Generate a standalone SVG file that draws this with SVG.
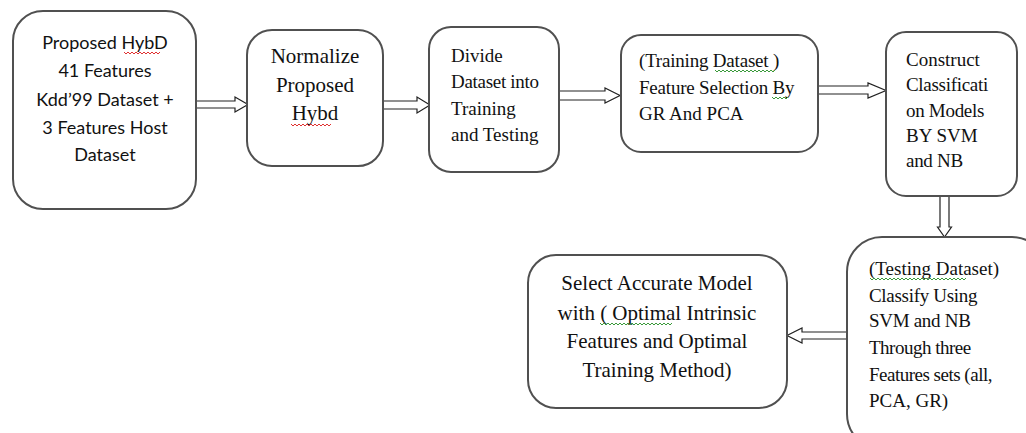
<svg xmlns="http://www.w3.org/2000/svg" width="1026" height="433" viewBox="0 0 1026 433">
<style>
.box{fill:#fff;stroke:#505050;stroke-width:2}
.arr{fill:#fff;stroke:#222;stroke-width:1.2;stroke-linejoin:miter}
.cal{font-family:Lato,"Open Sans","Liberation Sans",sans-serif;font-size:18px;fill:#111;text-anchor:middle}
.ser{font-family:"Liberation Serif","Times New Roman",serif;font-size:19px;fill:#111}
.big{font-size:21px}
.mid{text-anchor:middle}
.red{fill:none;stroke:#e03030;stroke-width:1}
.grn{fill:none;stroke:#3a9a3a;stroke-width:1}
</style>
<rect width="1026" height="433" fill="#fff"/>
<g id="connectors">
<path class="arr" d="M196,101 H235 V97 L248,104.5 L235,112 V108 H196 Z"/>
<path class="arr" d="M383,101 H417 V97 L430,105 L417,113 V109 H383 Z"/>
<path class="arr" d="M559,91 H605 V88 L620,95.5 L605,103 V100 H559 Z"/>
<path class="arr" d="M818,86 H868 V83 L886,90.5 L868,98 V94 H818 Z"/>
<path class="arr" d="M940,196 V227 H937.5 L944.5,237 L951.5,227 H949 V196 Z"/>
<path class="arr" d="M847,332 H802 V328 L787,335.5 L802,343 V339 H847 Z"/>
</g>
<g id="n1">
<rect class="box" x="13" y="11" width="183" height="198" rx="30"/>
<text class="cal" x="105" y="49">Proposed HybD</text>
<text class="cal" x="105" y="77">41 Features</text>
<text class="cal" x="105" y="106">Kdd’99 Dataset +</text>
<text class="cal" x="105" y="134">3 Features Host</text>
<text class="cal" x="105" y="161">Dataset</text>
<path class="red" d="M124,52 l2,2 l2,-2 l2,2 l2,-2 l2,2 l2,-2 l2,2 l2,-2 l2,2 l2,-2 l2,2 l2,-2 l2,2 l2,-2 l2,2 l2,-2 l2,2 l2,-2"/>
</g>
<g id="n2">
<rect class="box" x="247" y="30" width="136" height="136" rx="25"/>
<text class="ser big mid" x="315" y="63">Normalize</text>
<text class="ser big mid" x="315" y="92">Proposed</text>
<text class="ser big mid" x="315" y="120">Hybd</text>
<path class="red" d="M291,124 l2,2 l2,-2 l2,2 l2,-2 l2,2 l2,-2 l2,2 l2,-2 l2,2 l2,-2 l2,2 l2,-2 l2,2 l2,-2 l2,2 l2,-2 l2,2 l2,-2 l2,2 l2,-2"/>
</g>
<g id="n3">
<rect class="box" x="429" y="27" width="130" height="145" rx="22"/>
<text class="ser" x="451" y="62">Divide</text>
<text class="ser" x="451" y="88" letter-spacing="-0.3">Dataset into</text>
<text class="ser" x="451" y="115">Training</text>
<text class="ser" x="451" y="141">and Testing</text>
</g>
<g id="n4">
<rect class="box" x="621" y="35" width="197" height="117" rx="20"/>
<text class="ser" x="639" y="67" letter-spacing="-0.2">(Training Dataset )</text>
<text class="ser" x="639" y="94" letter-spacing="-0.2">Feature Selection By</text>
<text class="ser" x="639" y="120">GR And PCA</text>
<path class="grn" d="M715,70 l2,2 l2,-2 l2,2 l2,-2 l2,2 l2,-2 l2,2 l2,-2 l2,2 l2,-2 l2,2 l2,-2 l2,2 l2,-2 l2,2 l2,-2 l2,2 l2,-2 l2,2 l2,-2 l2,2 l2,-2 l2,2 l2,-2 l2,2 l2,-2 l2,2 l2,-2 l2,2 l2,-2"/>
<path class="grn" d="M772,97 l2,2 l2,-2 l2,2 l2,-2 l2,2 l2,-2 l2,2 l2,-2"/>
</g>
<g id="n5">
<rect class="box" x="886" y="32" width="131" height="164" rx="20"/>
<text class="ser" x="906" y="66">Construct</text>
<text class="ser" x="906" y="91" letter-spacing="-0.3">Classificati</text>
<text class="ser" x="906" y="117" letter-spacing="-0.3">on Models</text>
<text class="ser" x="906" y="142">BY SVM</text>
<text class="ser" x="906" y="167" letter-spacing="-0.3">and NB</text>
</g>
<g id="n6">
<rect class="box" x="847" y="237" width="200" height="212" rx="35"/>
<text class="ser" x="869" y="275">(Testing  Dataset)</text>
<text class="ser" x="869" y="302" letter-spacing="-0.3">Classify Using</text>
<text class="ser" x="869" y="327" letter-spacing="-0.3">SVM and NB</text>
<text class="ser" x="869" y="354" letter-spacing="-0.5">Through three</text>
<text class="ser" x="869" y="381" letter-spacing="-0.5">Features sets (all,</text>
<text class="ser" x="869" y="407">PCA, GR)</text>
<path class="grn" d="M870,278 l2,2 l2,-2 l2,2 l2,-2 l2,2 l2,-2 l2,2 l2,-2 l2,2 l2,-2 l2,2 l2,-2 l2,2 l2,-2 l2,2 l2,-2 l2,2 l2,-2 l2,2 l2,-2 l2,2 l2,-2 l2,2 l2,-2 l2,2 l2,-2 l2,2 l2,-2 l2,2 l2,-2 l2,2 l2,-2 l2,2 l2,-2 l2,2 l2,-2 l2,2 l2,-2 l2,2 l2,-2 l2,2 l2,-2 l2,2 l2,-2 l2,2 l2,-2 l2,2 l2,-2"/>
</g>
<g id="n7">
<rect class="box" x="528" y="255" width="259" height="153" rx="28"/>
<text class="ser big mid" x="657" y="290">Select Accurate Model</text>
<text class="ser big mid" x="657" y="320">with ( Optimal Intrinsic</text>
<text class="ser big mid" x="657" y="348">Features and Optimal</text>
<text class="ser big mid" x="657" y="377">Training Method)</text>
<path class="grn" d="M600,323 l2,2 l2,-2 l2,2 l2,-2 l2,2 l2,-2 l2,2 l2,-2 l2,2 l2,-2 l2,2 l2,-2 l2,2 l2,-2 l2,2 l2,-2 l2,2 l2,-2 l2,2 l2,-2 l2,2 l2,-2 l2,2 l2,-2 l2,2 l2,-2 l2,2 l2,-2 l2,2 l2,-2 l2,2 l2,-2 l2,2 l2,-2 l2,2 l2,-2"/>
</g>
</svg>
